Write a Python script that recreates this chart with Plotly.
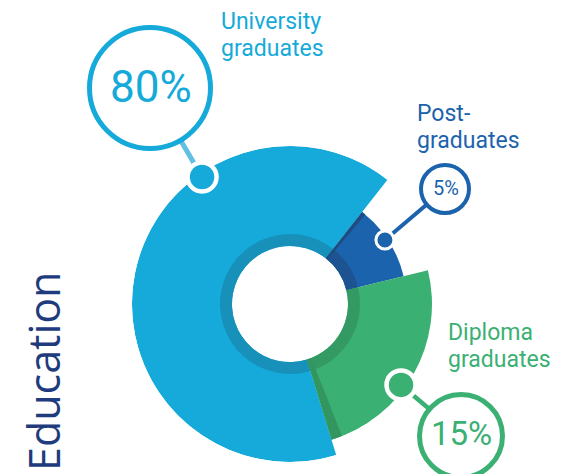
import math
import plotly.graph_objects as go

# ---------------- data ----------------
categories = ["University graduates", "Post-graduates", "Diploma graduates"]
percent_values = [80, 5, 15]
# share of the full circle that each wedge occupies in the picture
arc_share = [65.3, 10.6, 24.1]
label_lines = [["University", "graduates"], ["Post-", "graduates"], ["Diploma", "graduates"]]
title_text = "Education"

# ---------------- style / layout ----------------
W, H = 571, 474
CX, CY = 290, 304          # donut centre in pixels
R_MAX = 158
HOLE = 58
RING = 12
start_angle = 163          # where the first wedge begins (clockwise from top)
outer_r = [158, 117, 142]
colors = ["#15aad9", "#1c63ad", "#3bb073"]
ring_colors = ["#1891ba", "#1d5390", "#349a63"]
line_colors = ["#62c0e2", "#1c63ad", "#3bb073"]
dot_r = [154.5, 114.5, 137.4]
dot_theta = [325.3, 56.0, 126.1]
dot_size = [29, 18, 29]
dot_line = [4.5, 3, 4.5]
bubble_c = [(150, 88), (445, 189), (461, 436)]
bubble_rad = [60.5, 24, 41.5]
bubble_lw = [5, 4, 5]
conn_lw = [5, 4, 4.5]
pct_font = [44, 20, 33]
pct_pos = [(151, 87), (446, 188), (461, 433)]
label_x = [220, 416, 447]
label_first_base = [30, 122.7, 341.7]
LABEL_SIZE = 23
LINE_PITCH = 27


def px(x):
    return x / W


def py(y):
    return 1 - y / H


widths = [s / 100 * 360 for s in arc_share]
centers = []
a = start_angle
for w in widths:
    centers.append((a + w / 2) % 360)
    a += w

fig = go.Figure()

# main wedges
fig.add_trace(go.Barpolar(
    r=[o - HOLE for o in outer_r], base=[HOLE] * 3, theta=centers, width=widths,
    marker=dict(color=colors, line=dict(width=0)), hoverinfo="skip",
))
# darker inner ring
fig.add_trace(go.Barpolar(
    r=[RING] * 3, base=[HOLE] * 3, theta=centers, width=widths,
    marker=dict(color=ring_colors, line=dict(width=0)), hoverinfo="skip",
))
# shadow strips at the wedge joins
green_end = (start_angle) % 360
pg_start = (start_angle + widths[0]) % 360
fig.add_trace(go.Barpolar(
    r=[outer_r[2] - HOLE, outer_r[1] - HOLE], base=[HOLE, HOLE],
    theta=[green_end - 2.25, pg_start + 1.0], width=[4.5, 2.0],
    marker=dict(color=["#33955f", "#1f4c80"], line=dict(width=0)), hoverinfo="skip",
))
# dots on the wedges
fig.add_trace(go.Scatterpolar(
    r=dot_r, theta=dot_theta, mode="markers", cliponaxis=False,
    marker=dict(color=colors, size=dot_size, opacity=1,
                line=dict(color="white", width=dot_line)),
    hoverinfo="skip",
))

shapes = []
annotations = []
for i in range(3):
    th = math.radians(dot_theta[i])
    dx = CX + dot_r[i] * math.sin(th)
    dy = CY - dot_r[i] * math.cos(th)
    bx, by = bubble_c[i]
    shapes.append(dict(type="line", xref="paper", yref="paper", layer="below",
                       x0=px(dx), y0=py(dy), x1=px(bx), y1=py(by),
                       line=dict(color=line_colors[i], width=conn_lw[i])))
for i in range(3):
    bx, by = bubble_c[i]
    rr = bubble_rad[i]
    shapes.append(dict(type="circle", xref="paper", yref="paper", layer="below",
                       x0=px(bx - rr), x1=px(bx + rr), y0=py(by + rr), y1=py(by - rr),
                       fillcolor="white", line=dict(color=colors[i], width=bubble_lw[i])))
    annotations.append(dict(text=f"{percent_values[i]}%", x=px(pct_pos[i][0]), y=py(pct_pos[i][1]),
                            xref="paper", yref="paper", xanchor="center", yanchor="middle",
                            showarrow=False, font=dict(family="Roboto", size=pct_font[i], color=colors[i])))
    txt = "<br>".join(f"<span style='font-size:{LABEL_SIZE}px'>{ln}</span>" for ln in label_lines[i])
    annotations.append(dict(text=txt, x=px(label_x[i]), y=py(label_first_base[i] + 4.65),
                            xref="paper", yref="paper", xanchor="left", yanchor="middle",
                            align="left", showarrow=False, borderpad=0,
                            font=dict(family="Roboto", size=LINE_PITCH / 1.3, color=colors[i])))

annotations.append(dict(text=title_text, x=px(43), y=py(371), xref="paper", yref="paper",
                        xanchor="center", yanchor="middle", textangle=-90, showarrow=False,
                        font=dict(family="Open Sans", size=43, color="#1e3c7d")))

fig.update_layout(
    width=W, height=H, margin=dict(l=0, r=0, t=0, b=0),
    paper_bgcolor="white", showlegend=False,
    polar=dict(
        domain=dict(x=[px(CX - R_MAX), px(CX + R_MAX)], y=[py(CY + R_MAX), py(CY - R_MAX)]),
        bgcolor="rgba(0,0,0,0)",
        radialaxis=dict(range=[0, R_MAX], visible=False),
        angularaxis=dict(visible=False, direction="clockwise", rotation=90),
    ),
    shapes=shapes, annotations=annotations,
)

fig.write_html("out.html", post_script="document.body.style.margin='0';",
               config={"displayModeBar": False})
